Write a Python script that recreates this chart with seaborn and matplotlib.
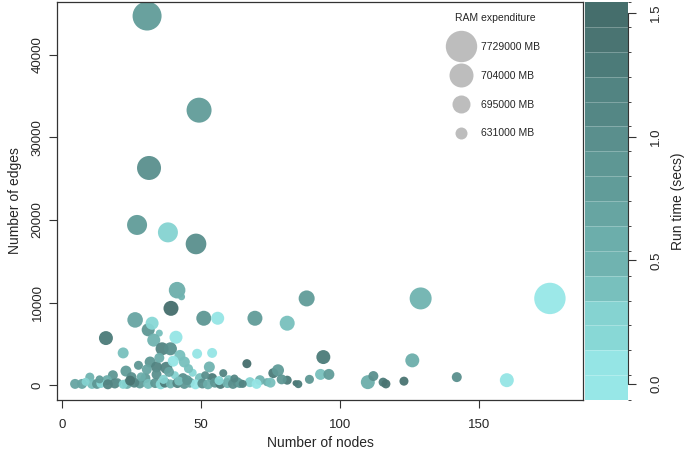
import numpy as np
import pandas as pd
import matplotlib
matplotlib.use("Agg")
import matplotlib.pyplot as plt
import matplotlib.colors as mcolors
from matplotlib.lines import Line2D
import seaborn as sns

# Datos (nodos, aristas, RAM en MB, tiempo en segundos)
nodes = [30.6, 49.3, 31.3, 27.0, 38.1, 48.2, 175.5, 129.0, 88.0, 41.4,
         43.0, 39.2, 26.3, 51.0, 56.0, 69.4, 81.0, 15.8, 31.0, 32.4,
         35.0, 33.0, 41.0, 22.0, 36.0, 39.0, 42.4, 44.0, 48.6, 54.0,
         31.7, 34.0, 37.5, 53.0, 66.5, 94.0, 126.0, 23.0, 47.0, 58.0,
         40.6, 18.3, 10.0, 25.0, 30.0, 43.5, 49.6, 54.0, 16.2, 60.0,
         71.2, 76.0, 77.7, 81.0, 84.0, 89.0, 93.0, 96.0, 110.0, 112.0,
         115.5, 116.5, 123.0, 142.0, 160.0, 63.0, 67.6, 73.7, 4.7, 7.2,
         10.8, 12.6, 19.0, 20.0, 23.4, 28.0, 31.0, 14.0, 16.5, 22.0,
         26.0, 33.5, 35.5, 37.0, 39.0, 41.5, 44.0, 46.0, 48.0, 50.5,
         52.5, 55.0, 57.0, 59.5, 61.5, 64.0, 65.0, 70.0, 75.0, 79.0,
         85.0, 8.5, 24.5, 28.5, 34.0, 36.5, 38.5, 42.0, 45.0, 13.5,
         30.5, 45.5, 51.5, 56.5, 35.0, 40.0, 27.5, 62.0]

edges = [44700, 33300, 26300, 19400, 18500, 17100, 10500, 10500, 10500, 11500,
         10700, 9300, 7900, 8100, 8100, 8100, 7500, 5700, 6700, 7500,
         6300, 5450, 5800, 3900, 4400, 4400, 3600, 2800, 3800, 3900,
         2800, 2200, 2100, 2200, 2600, 3400, 3000, 1700, 1500, 1450,
         1200, 1200, 970, 970, 850, 850, 850, 850, 600, 600,
         600, 1450, 1800, 600, 240, 700, 1300, 1300, 360, 1100,
         360, 150, 480, 970, 600, 360, 360, 360, 150, 150,
         150, 150, 200, 350, 150, 200, 150, 200, 100, 100,
         300, 250, 100, 300, 150, 250, 150, 300, 100, 200,
         100, 300, 150, 250, 150, 200, 150, 150, 300, 700,
         120, 400, 550, 1000, 1300, 700, 1600, 500, 600, 700,
         1900, 2000, 1200, 550, 3300, 2900, 2400, 800]

ram_mb = [5451000, 1653000, 704000, 698000, 698000, 699000, 7729000, 701000, 674000, 680000,
          572000, 663000, 669000, 663000, 642000, 663000, 663000, 652000, 642000, 642000,
          572000, 642000, 642000, 619000, 642000, 642000, 619000, 619000, 607000, 607000,
          619000, 619000, 631000, 619000, 596000, 652000, 652000, 619000, 584000, 584000,
          584000, 607000, 596000, 607000, 607000, 607000, 607000, 607000, 607000, 607000,
          607000, 607000, 631000, 596000, 560000, 596000, 619000, 619000, 652000, 607000,
          596000, 596000, 596000, 607000, 652000, 607000, 607000, 584000, 607000, 607000,
          607000, 607000, 607000, 584000, 607000, 607000, 607000, 596000, 607000, 596000,
          607000, 607000, 607000, 607000, 596000, 607000, 607000, 607000, 607000, 607000,
          607000, 607000, 607000, 607000, 607000, 596000, 584000, 607000, 607000, 607000,
          584000, 584000, 607000, 596000, 607000, 596000, 607000, 596000, 607000, 584000,
          607000, 596000, 584000, 596000, 607000, 619000, 596000, 584000]

run_time = [0.80, 0.75, 0.95, 0.75, 0.30, 0.95, 0.00, 0.45, 0.75, 0.55,
            0.45, 1.45, 0.70, 0.85, 0.05, 0.75, 0.35, 1.30, 0.90, 0.15,
            0.35, 0.50, 0.05, 0.40, 1.20, 0.95, 0.35, 0.35, 0.05, 0.05,
            0.90, 1.20, 1.20, 0.45, 1.45, 1.30, 0.60, 0.75, 0.20, 1.20,
            0.30, 0.85, 0.45, 0.95, 0.80, 1.00, 0.35, 1.30, 0.55, 0.40,
            0.50, 1.30, 0.75, 1.30, 1.40, 0.85, 0.40, 0.75, 0.60, 1.00,
            1.30, 1.35, 1.40, 0.95, 0.05, 0.90, 0.30, 0.60, 0.70, 0.65,
            0.40, 0.90, 1.10, 1.00, 0.55, 0.75, 0.40, 0.20, 1.20, 0.30,
            1.10, 0.85, 0.15, 1.25, 0.50, 1.15, 0.90, 0.70, 0.05, 1.00,
            0.60, 0.85, 1.30, 0.45, 1.00, 0.80, 1.20, 0.10, 0.40, 0.90,
            1.30, 0.30, 1.40, 0.55, 0.95, 0.25, 0.70, 0.35, 0.90, 0.75,
            0.65, 0.40, 0.95, 0.20, 0.55, 0.10, 0.85, 1.10]

legend_ram = [7729000, 704000, 695000, 631000]
cbar_ticks = [0.0, 0.5, 1.0, 1.5]

df = pd.DataFrame({"nodes": nodes, "edges": edges, "ram": ram_mb, "run_time": run_time})

sns.set_style("ticks")
plt.rcParams["font.family"] = ["Liberation Sans", "DejaVu Sans"]

# Paleta en bandas (de claro a oscuro) como la barra de color
band_colors = ["#97e7e7", "#95e5e5", "#88d8d6", "#85d3d1", "#78c0bd", "#70b3b0",
               "#6caeab", "#67a5a2", "#619c99", "#5e9794", "#5a8f8d", "#548785",
               "#528482", "#4c7b79", "#4a7472", "#456e6c"]
cmap = mcolors.ListedColormap(band_colors)
bounds = np.linspace(-0.065, 1.545, 17)
cnorm = mcolors.BoundaryNorm(bounds, cmap.N)

# Escala de tamaños: RAM -> radio (px), anclada en los valores de la leyenda
ram_anchor = [560000, 631000, 695000, 704000, 7729000]
rad_anchor = [3, 6, 9, 12, 15.7]
def fwd(v):
    return np.interp(np.asarray(v, dtype=float), ram_anchor, rad_anchor) ** 2
def inv(v):
    return np.interp(np.sqrt(np.asarray(v, dtype=float)), rad_anchor, ram_anchor)
snorm = mcolors.FuncNorm((fwd, inv), vmin=ram_anchor[0], vmax=ram_anchor[-1])
def area(r):
    return (2 * r * 0.72) ** 2

fig = plt.figure(figsize=(6.85, 4.5), dpi=100)
ax = fig.add_axes([57 / 685, 50 / 450, 526 / 685, 398 / 450])
cax = fig.add_axes([585 / 685, 50 / 450, 43 / 685, 398 / 450])

sns.scatterplot(data=df, x="nodes", y="edges", hue="run_time", palette=cmap, hue_norm=cnorm,
                size="ram", sizes=(area(rad_anchor[0]), area(rad_anchor[-1])), size_norm=snorm,
                linewidth=0, alpha=0.95, legend=False, ax=ax)

ax.set_xlim(-1.8, 187.4)
ax.set_ylim(-1800, 46400)
ax.set_xticks([0, 50, 100, 150])
ax.set_yticks([0, 10000, 20000, 30000, 40000])
ax.set_xlabel("Number of nodes", fontsize=10, labelpad=3)
ax.set_ylabel("Number of edges", fontsize=10, labelpad=7)
ax.tick_params(direction="out", length=6, width=0.8, color="#333333", labelsize=9.5)
ax.tick_params(axis="x", pad=8)
for lab in ax.get_yticklabels():
    lab.set_rotation(90)
    lab.set_va("center")
for sp in ax.spines.values():
    sp.set_visible(True)
    sp.set_color("#333333")
    sp.set_linewidth(0.9)

# Leyenda de tamaños (círculos grises)
handles = [Line2D([], [], marker="o", linestyle="", markerfacecolor="#bdbdbd", markeredgecolor="none",
                  markersize=2 * np.interp(v, ram_anchor, rad_anchor) * 0.72) for v in legend_ram]
labels = [f"{v} MB" for v in legend_ram]
leg = ax.legend(handles, labels, title="RAM expenditure", frameon=False, loc="upper left",
                bbox_to_anchor=((446 - 57) / 526, 0.982), fontsize=7.5, title_fontsize=7.5,
                labelspacing=1.8, handletextpad=1.0, borderaxespad=0)

# Barra de color
sm = plt.cm.ScalarMappable(norm=cnorm, cmap=cmap)
cbar = fig.colorbar(sm, cax=cax, drawedges=True, ticks=cbar_ticks)
cbar.outline.set_visible(False)
cbar.dividers.set_color("white")
cbar.dividers.set_alpha(0.3)
cbar.dividers.set_linewidth(0.6)
cax.tick_params(length=6, width=0.8, color="#333333", labelsize=9.5, pad=10)
cax.set_yticklabels(["0.0", "0.5", "1.0", "1.5"])
for lab in cax.get_yticklabels():
    lab.set_rotation(90)
    lab.set_va("center")
cax.plot([1, 1], [0, 1.5], transform=cax.get_yaxis_transform(), color="#333333",
         linewidth=0.8, clip_on=False)
cbar.set_label("Run time (secs)", fontsize=10, labelpad=6)

fig.savefig("out.png", dpi=100)
